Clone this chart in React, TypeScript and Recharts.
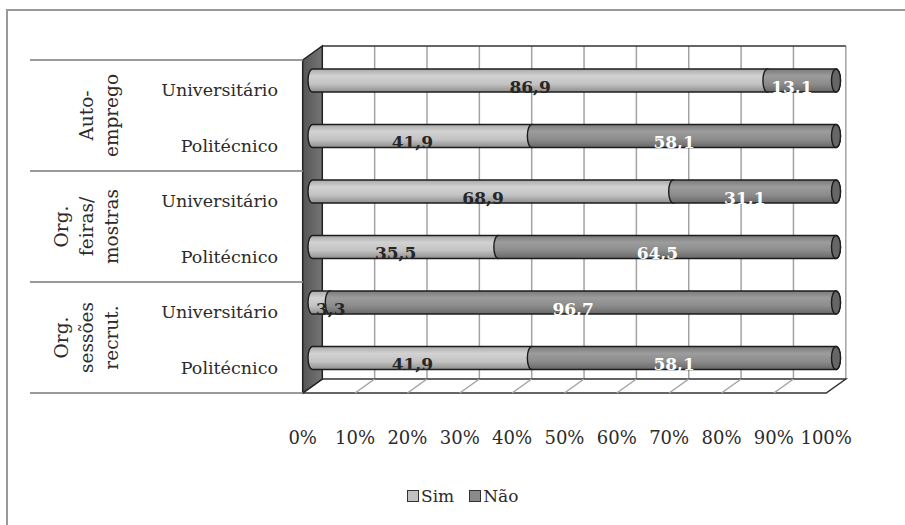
import React from 'react';
import { BarChart, Bar, XAxis, YAxis, LabelList, Customized, usePlotArea } from 'recharts';

// values (percent of answers)
const GROUPS = [['Auto-', 'emprego'], ['Org.', 'feiras/', 'mostras'], ['Org.', 'sessões', 'recrut.']];
const LEVELS = ['Universitário', 'Politécnico'];
const SIM = [86.9, 41.9, 68.9, 35.5, 3.3, 41.9];
const NAO = [13.1, 58.1, 31.1, 64.5, 96.7, 58.1];
const X_TICKS = [0, 10, 20, 30, 40, 50, 60, 70, 80, 90, 100];
const SERIES = [
  { key: 'sim', name: 'Sim', color: '#c2c2c2' },
  { key: 'nao', name: 'Não', color: '#8a8a8a' },
];

const data = SIM.map((s, i) => ({
  key: `r${i}`,
  label: LEVELS[i % 2],
  sim: s,
  nao: NAO[i],
}));

const FONT = '"DejaVu Serif", serif';
// 3D depth: bars sit in the middle plane, front plane is shifted left/down, back plane right/up
const DX = 9.8;
const DY = 7;
const RX = 4.5;

const Box3D = () => {
  const pa = usePlotArea();
  if (!pa) return null;
  const { x, y, width: w, height: h } = pa;
  const fl = x - DX, ft = y + DY, fb = y + h + DY;
  const bl = x + DX, bt = y - DY, br = x + w + DX, bb = y + h - DY;
  const gh = h / GROUPS.length;

  return (
    <g>
      <defs>
        <linearGradient id="gSim" x1="0" y1="0" x2="0" y2="1">
          <stop offset="0%" stopColor="#a9a9a9" />
          <stop offset="30%" stopColor="#d2d2d2" />
          <stop offset="65%" stopColor="#c3c3c3" />
          <stop offset="100%" stopColor="#8e8e8e" />
        </linearGradient>
        <linearGradient id="gNao" x1="0" y1="0" x2="0" y2="1">
          <stop offset="0%" stopColor="#7a7a7a" />
          <stop offset="30%" stopColor="#9c9c9c" />
          <stop offset="65%" stopColor="#8c8c8c" />
          <stop offset="100%" stopColor="#676767" />
        </linearGradient>
        <linearGradient id="gWall" x1="0" y1="0" x2="1" y2="0">
          <stop offset="0%" stopColor="#555" />
          <stop offset="100%" stopColor="#757575" />
        </linearGradient>
      </defs>

      {/* back wall */}
      <rect x={bl} y={bt} width={w} height={h} fill="#fff" />
      {X_TICKS.slice(1).map((t) => (
        <line key={`bg${t}`} x1={bl + (t / 100) * w} x2={bl + (t / 100) * w} y1={bt} y2={bb}
          stroke="#a3a3a3" strokeWidth={1.5} />
      ))}
      <line x1={bl} x2={br} y1={bt} y2={bt} stroke="#333" strokeWidth={1.5} />

      {/* floor */}
      <polygon points={`${fl},${fb} ${fl + w},${fb} ${br},${bb} ${bl},${bb}`} fill="#fff" stroke="#333" strokeWidth={1.5} />
      {X_TICKS.slice(1, -1).map((t) => (
        <line key={`fl${t}`} x1={bl + (t / 100) * w} y1={bb} x2={fl + (t / 100) * w} y2={fb}
          stroke="#a3a3a3" strokeWidth={1.5} />
      ))}

      {/* left wall */}
      <polygon points={`${fl},${ft} ${bl},${bt} ${bl},${bb} ${fl},${fb}`} fill="url(#gWall)" stroke="#222" strokeWidth={1.5} />

      {/* group separators and labels */}
      {[0, 1, 2, 3].map((k) => (
        <line key={`sep${k}`} x1={30} x2={fl} y1={ft + k * gh} y2={ft + k * gh} stroke="#9a9a9a" strokeWidth={2} />
      ))}
      {GROUPS.map((lines, g) => {
        const cy = ft + (g + 0.5) * gh;
        return lines.map((txt, i) => {
          const bx = 118 - (lines.length - 1 - i) * 25;
          return (
            <text key={`g${g}-${i}`} x={bx} y={cy} transform={`rotate(-90 ${bx} ${cy})`}
              textAnchor="middle" fontFamily={FONT} fontSize={18.5} fill="#2b2b2b">
              {txt}
            </text>
          );
        });
      })}
    </g>
  );
};

const Cylinder = (props: any) => {
  const { x, y, width, height, fill, last } = props;
  if (width == null || width <= 0) return null;
  const ry = height / 2;
  const d = `M${x},${y} L${x + width},${y} A${RX},${ry} 0 0 1 ${x + width},${y + height} L${x},${y + height} A${RX},${ry} 0 0 1 ${x},${y} Z`;
  return (
    <g>
      <path d={d} fill={fill} stroke="#1c1c1c" strokeWidth={1.4} />
      {last && (
        <ellipse cx={x + width} cy={y + ry} rx={RX} ry={ry} fill="#666" stroke="#1c1c1c" strokeWidth={1.4} />
      )}
    </g>
  );
};

const makeLabel = (color: string) => (props: any) => {
  const vb = props.viewBox || {};
  const x = props.x ?? vb.x;
  const y = props.y ?? vb.y;
  const width = props.width ?? vb.width;
  const height = props.height ?? vb.height;
  const cx = Math.max(x + width / 2, x + 28) - DX;
  const cy = y + height / 2 + 6;
  return (
    <text x={cx} y={cy} textAnchor="middle" dominantBaseline="central"
      fontFamily={FONT} fontSize={17} fontWeight="bold" fill={color}>
      {String(props.value).replace('.', ',')}
    </text>
  );
};

const XTick = (props: any) => {
  const { x, y, payload } = props;
  return (
    <text x={x - DX} y={y + 51} textAnchor="middle" dominantBaseline="central"
      fontFamily={FONT} fontSize={18} fill="#2b2b2b">
      {`${payload.value}%`}
    </text>
  );
};

const YTick = (props: any) => {
  const { x, y, payload } = props;
  const row = data.find((d) => d.key === payload.value);
  return (
    <text x={x - 34.5} y={y + 9.5} textAnchor="end" dominantBaseline="central"
      fontFamily={FONT} fontSize={17.5} fill="#2b2b2b">
      {row ? row.label : ''}
    </text>
  );
};

const App = () => {
  return (
    <div style={{ position: 'absolute', left: 0, top: 0, width: 905, height: 525, overflow: 'hidden', background: '#fff' }}>
      <div style={{ position: 'absolute', left: 6, top: 9, width: 1000, height: 1000, borderTop: '2px solid #999', borderLeft: '2px solid #999' }} />
      <BarChart
        width={905}
        height={525}
        data={data}
        layout="vertical"
        barSize={23}
        margin={{ top: 53, right: 69, left: 0, bottom: 79 }}
        style={{ position: 'absolute', left: 0, top: 0 }}
      >
        <Customized component={<Box3D />} />
        <XAxis type="number" domain={[0, 100]} ticks={X_TICKS} interval={0} height={60}
          axisLine={false} tickLine={false} tickSize={0} tickMargin={0} tick={<XTick />} />
        <YAxis type="category" dataKey="key" width={312.5} interval={0}
          axisLine={false} tickLine={false} tickSize={0} tickMargin={0} tick={<YTick />} />
        <Bar dataKey="sim" name="Sim" stackId="a" fill="url(#gSim)" isAnimationActive={false}
          shape={(p: any) => <Cylinder {...p} />}>
          <LabelList dataKey="sim" content={makeLabel('#262626')} />
        </Bar>
        <Bar dataKey="nao" name="Não" stackId="a" fill="url(#gNao)" isAnimationActive={false}
          shape={(p: any) => <Cylinder {...p} last />}>
          <LabelList dataKey="nao" content={makeLabel('#ffffff')} />
        </Bar>
      </BarChart>
      <div style={{ position: 'absolute', left: 407, top: 486, display: 'flex', alignItems: 'center', fontFamily: FONT, fontSize: 17, color: '#2b2b2b' }}>
        {SERIES.map((s, i) => (
          <div key={s.key} style={{ display: 'flex', alignItems: 'center', marginLeft: i ? 15 : 0 }}>
            <span style={{ display: 'inline-block', width: 10, height: 10, background: s.color, border: '1.5px solid #333', marginRight: 2 }} />
            <span>{s.name}</span>
          </div>
        ))}
      </div>
    </div>
  );
};

export default App;
